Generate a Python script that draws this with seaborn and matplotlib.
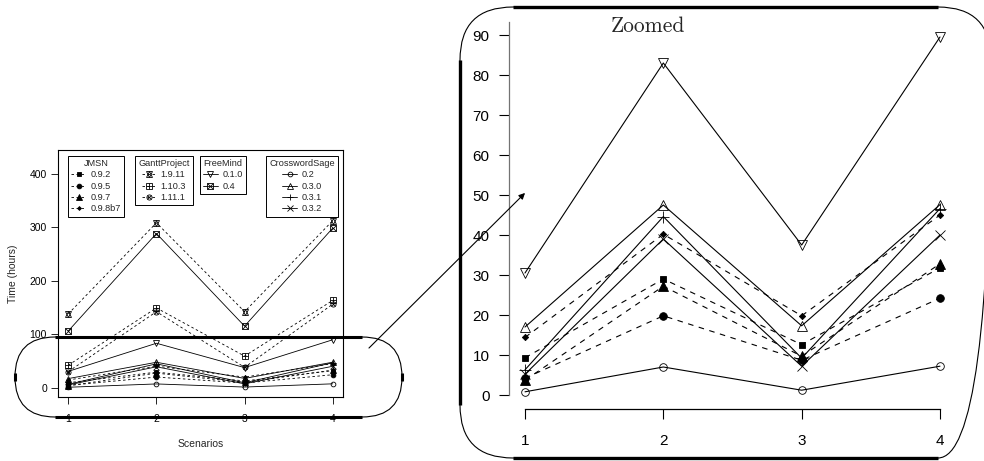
import matplotlib
matplotlib.use("Agg")
import matplotlib.pyplot as plt
import seaborn as sns
from matplotlib.patches import FancyBboxPatch

sns.set_style("ticks")
plt.rcParams["font.family"] = ["Liberation Sans", "DejaVu Sans"]

# Data: time (hours) per scenario for every tool version
scenarios = [1, 2, 3, 4]

jmsn_labels = ["0.9.2", "0.9.5", "0.9.7", "0.9.8b7"]
jmsn_092 = [9.3, 29.0, 12.6, 31.8]
jmsn_095 = [4.2, 19.8, 8.7, 24.2]
jmsn_097 = [3.7, 27.2, 9.7, 32.8]
jmsn_098b7 = [14.4, 40.2, 19.8, 45.0]

gantt_labels = ["1.9.11", "1.10.3", "1.11.1"]
gantt_1911 = [138, 308, 142, 312]
gantt_1103 = [42, 149, 59, 163]
gantt_1111 = [30, 142, 38, 156]

freemind_labels = ["0.1.0", "0.4"]
freemind_010 = [30.5, 83.0, 37.5, 89.5]
freemind_04 = [106, 288, 115, 298]

cws_labels = ["0.2", "0.3.0", "0.3.1", "0.3.2"]
cws_02 = [0.8, 7.0, 1.2, 7.2]
cws_030 = [17.0, 47.5, 17.3, 47.6]
cws_031 = [6.3, 44.6, 9.2, 46.6]
cws_032 = [5.2, 39.0, 7.2, 40.0]

# marker specs: (marker, filled, size in pt for the zoomed panel)
jmsn_marks = [[("s", True, 5)], [("o", True, 5.5)], [("^", True, 7.5)], [("D", True, 3.2)]]
gantt_marks = [[("^", False, 7.5), ("v", False, 7.5)],
               [("s", False, 6), ("+", False, 6)],
               [("o", False, 6), ("x", False, 4.5)]]
freemind_marks = [[("v", False, 7.5)], [("s", False, 6), ("x", False, 6)]]
cws_marks = [[("o", False, 5.5)], [("^", False, 7.5)], [("+", False, 8)], [("x", False, 6.5)]]

groups = [
    ("JMSN", jmsn_labels, [jmsn_092, jmsn_095, jmsn_097, jmsn_098b7], jmsn_marks, True),
    ("GanttProject", gantt_labels, [gantt_1911, gantt_1103, gantt_1111], gantt_marks, True),
    ("FreeMind", freemind_labels, [freemind_010, freemind_04], freemind_marks, False),
    ("CrosswordSage", cws_labels, [cws_02, cws_030, cws_031, cws_032], cws_marks, False),
]


def draw(ax, y, marks, dashed, scale, lw, dash):
    parts = []
    for i, (m, filled, size) in enumerate(marks):
        if i == 0:
            ls = (0, dash) if dashed else "-"
        else:
            ls = "none"
        sns.lineplot(x=scenarios, y=y, ax=ax, color="black", linestyle=ls,
                     linewidth=lw, marker=m, markersize=size * scale,
                     markerfacecolor="black" if filled else "none",
                     markeredgecolor="black", markeredgewidth=0.6)
        parts.append(ax.lines[-1])
    return tuple(parts)


fig = plt.figure(figsize=(9.84, 4.61), dpi=100)

# ---- left: full chart ----
ax = fig.add_axes([58 / 984, 1 - 397 / 461, 285 / 984, 247 / 461])
legend_handles = []
for title, labels, series, marks, dashed in groups:
    hs = [draw(ax, y, mk, dashed, 0.62, 0.6, (3, 3)) for y, mk in zip(series, marks)]
    legend_handles.append((title, labels, hs))

ax.set_xlim(0.883, 4.117)
ax.set_ylim(-17.4, 444)
ax.set_xticks(scenarios)
ax.set_yticks([0, 100, 200, 300, 400])
for s in ax.spines.values():
    s.set_color("black")
    s.set_linewidth(0.8)
ax.tick_params(axis="both", labelsize=7.5, direction="out", length=5, width=0.6, colors="black")
ax.tick_params(axis="x", pad=7)
ax.tick_params(axis="y", pad=3)
ax.set_xlabel("Scenarios", fontsize=7.5, labelpad=11)
ax.set_ylabel("Time (hours)", fontsize=7.5, labelpad=8)

leg_x = [0.035, 0.27, 0.498, 0.73]
legs = []
for (title, labels, hs), lx in zip(legend_handles, leg_x):
    leg = ax.legend(hs, labels, title=title, loc="upper left", bbox_to_anchor=(lx, 0.976),
                    fontsize=6.6, title_fontsize=6.6, frameon=True, fancybox=False,
                    edgecolor="black", framealpha=1, borderpad=0.35, labelspacing=0.25,
                    handlelength=1.6, handletextpad=0.5, borderaxespad=0)
    leg.get_frame().set_linewidth(0.7)
    legs.append(leg)
for leg in legs[:-1]:
    ax.add_artist(leg)

# ---- right: zoomed chart (low values only) ----
az = fig.add_axes([509 / 984, 1 - 409 / 461, 447 / 984, 399 / 461])
zoom_series = [(y, mk, True) for y, mk in zip(groups[0][2], jmsn_marks)]
zoom_series += [(freemind_010, freemind_marks[0], False)]
zoom_series += [(y, mk, False) for y, mk in zip(groups[3][2], cws_marks)]
for y, mk, dashed in zoom_series:
    draw(az, y, mk, dashed, 1.0, 0.8, (5, 5))

az.set_xlim(0.8843, 4.1157)
az.set_ylim(-3.5, 96.25)
az.set_xticks(scenarios)
az.set_yticks(range(0, 91, 10))
az.spines["top"].set_visible(False)
az.spines["right"].set_visible(False)
az.spines["left"].set_bounds(0, 93.3)
az.spines["left"].set_color("0.45")
az.spines["left"].set_linewidth(0.9)
az.spines["bottom"].set_bounds(1, 4)
az.spines["bottom"].set_color("black")
az.spines["bottom"].set_linewidth(0.9)
az.patch.set_alpha(0)
az.tick_params(axis="both", labelsize=11, direction="out", length=7, width=0.8, colors="black")
az.tick_params(axis="x", pad=11)
az.tick_params(axis="y", pad=7)
az.set_xlabel("")
az.set_ylabel("")
az.text(0.31, 0.985, "Zoomed", transform=az.transAxes, ha="center", va="top",
        fontsize=15.5, family="cmr10")

# ---- overlay: zoom outlines and arrow (pixel coordinates) ----
ov = fig.add_axes([0, 0, 1, 1], zorder=10)
ov.set_xlim(0, 984)
ov.set_ylim(461, 0)
ov.axis("off")
ov.patch.set_alpha(0)

ov.add_patch(FancyBboxPatch((15, 337), 387, 80, boxstyle="round,pad=0,rounding_size=40",
                            fill=False, ec="black", lw=0.8))
ov.plot([55, 362], [337, 337], color="black", lw=2.2, solid_capstyle="butt")
ov.plot([55, 362], [417, 417], color="black", lw=2.2, solid_capstyle="butt")
ov.plot([15, 15], [373, 381], color="black", lw=2.2, solid_capstyle="butt")
ov.plot([402, 402], [373, 381], color="black", lw=2.2, solid_capstyle="butt")

ov.add_patch(FancyBboxPatch((460, 7), 531, 451, boxstyle="round,pad=0,rounding_size=53",
                            fill=False, ec="black", lw=0.8, clip_on=False))
ov.plot([513, 938], [7, 7], color="black", lw=2.4, solid_capstyle="butt")
ov.plot([513, 938], [458, 458], color="black", lw=2.4, solid_capstyle="butt")
ov.plot([460, 460], [60, 405], color="black", lw=2.4, solid_capstyle="butt")

ov.annotate("", xy=(527, 191), xytext=(367, 350),
            arrowprops=dict(arrowstyle="-|>", color="black", lw=0.8, mutation_scale=9))

fig.savefig("out.png", dpi=100)
